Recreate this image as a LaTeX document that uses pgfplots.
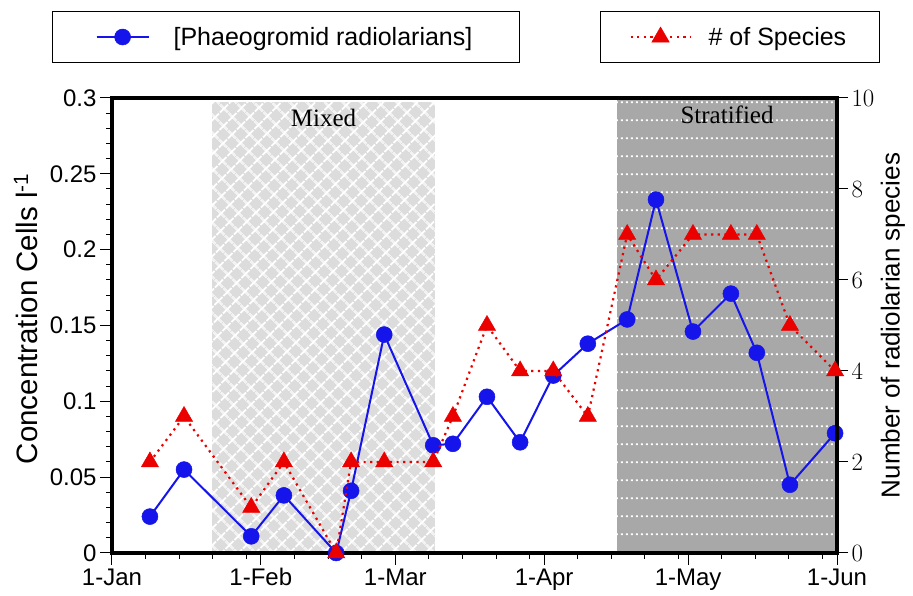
\documentclass[border=0pt]{standalone}
\usepackage{fontspec}
\setmainfont{Liberation Sans}
\newfontfamily\seriffam{Liberation Serif}
\usepackage{pgfplots}
\usepackage{pgfplotstable}
\pgfplotsset{compat=1.18}
\usetikzlibrary{patterns.meta}

\definecolor{myblue}{RGB}{20,20,235}
\definecolor{myred}{RGB}{235,0,0}
\definecolor{mixgray}{RGB}{220,220,220}
\definecolor{strgray}{RGB}{168,168,168}

\tikzdeclarepattern{
  name=diamondgrid,
  type=uncolored,
  bottom left={(0pt,0pt)},
  top right={(12pt,12pt)},
  tile size={(12pt,12pt)},
  tile transformation={rotate=45},
  code={
    \pgfsetlinewidth{2.2pt}
    \pgfpathmoveto{\pgfpoint{0pt}{6pt}}\pgfpathlineto{\pgfpoint{12pt}{6pt}}
    \pgfpathmoveto{\pgfpoint{6pt}{0pt}}\pgfpathlineto{\pgfpoint{6pt}{12pt}}
    \pgfusepath{stroke}
  }
}
\tikzdeclarepattern{
  name=hdotlines,
  type=uncolored,
  bottom left={(0pt,0pt)},
  top right={(5pt,17.5pt)},
  tile size={(5pt,17.5pt)},
  code={
    \pgfpathrectangle{\pgfpoint{1pt}{8pt}}{\pgfpoint{2.5pt}{1.8pt}}
    \pgfusepath{fill}
  }
}

\pgfplotstableread{
day conc species
7.9 0.024 2
15.0 0.055 3
29.0 0.011 1
35.8 0.038 2
46.7 0.000 0
49.8 0.041 2
56.7 0.144 2
66.9 0.071 2
71.0 0.072 3
78.1 0.103 5
85.0 0.073 4
91.9 0.117 4
99.1 0.138 3
107.3 0.154 7
113.3 0.233 6
121.0 0.146 7
128.9 0.171 7
134.3 0.132 7
141.2 0.045 5
150.6 0.079 4
}\datatable

\pgfplotsset{
  common/.style={
    scale only axis, width=725pt, height=455pt,
    xmin=0, xmax=151,
    tick align=outside,
    major tick length=12pt, minor tick length=6pt,
    every tick/.style={black, line width=1pt},
    axis line style={line width=3.5pt},
    tick label style={font=\fontsize{24}{28}\selectfont},
    clip=false,
  }
}

\begin{document}
\begin{tikzpicture}
\begin{axis}[
  common,
  ymin=0, ymax=0.3,
  xtick={0,31,59,90,120,151},
  xticklabels={1-Jan,1-Feb,1-Mar,1-Apr,1-May,1-Jun},
  minor xtick={7,14,21,28,38,45,52,66,73,80,87,97,104,111,118,127,134,141,148},
  ytick={0,0.05,0.1,0.15,0.2,0.25,0.3},
  yticklabels={0,0.05,0.1,0.15,0.2,0.25,0.3},
  minor y tick num=4,
  xtick pos=bottom, ytick pos=left,
  ylabel={Concentration Cells l\textsuperscript{-1}},
  ylabel style={font=\fontsize{29.5}{33}\selectfont, at={(axis description cs:-0.119,0.515)}, anchor=center},
  legend style={at={(axis description cs:0.24,1.134)}, anchor=center, draw=black, line width=1.2pt,
    inner xsep=43pt, inner ysep=12pt, column sep=20pt, font=\fontsize{25}{30}\selectfont,
    nodes={inner sep=4pt}},
  legend image code/.code={\draw[mark repeat=2,mark phase=2,#1] plot coordinates {(0pt,0pt) (26pt,0pt) (52pt,0pt)};},
]
\coordinate (SW) at (rel axis cs:0,0);
\coordinate (NE) at (rel axis cs:1,1);
\addplot[draw=none, fill=mixgray, postaction={pattern=diamondgrid, pattern color=white}, forget plot]
  coordinates {(20.8,0.001) (67.3,0.001) (67.3,0.2975) (20.8,0.2975)} -- cycle;
\addplot[draw=none, fill=strgray, postaction={pattern=hdotlines, pattern color=white}, forget plot]
  coordinates {(105.2,0.001) (151,0.001) (151,0.2985) (105.2,0.2985)} -- cycle;
\node[font=\seriffam\fontsize{25}{30}\selectfont, anchor=base] at (axis cs:44.05,0.281) {Mixed};
\node[font=\seriffam\fontsize{25}{30}\selectfont, anchor=base] at (axis cs:128.1,0.2835) {Stratified};
\draw[line width=3.5pt, black] (rel axis cs:0,0) rectangle (rel axis cs:1,1);
\addplot[color=myblue, line width=2pt, mark=*, mark size=8pt, mark options={solid, fill=myblue, line width=0.5pt}]
  table[x=day, y=conc] {\datatable};
\addlegendentry{[Phaeogromid radiolarians]}
\end{axis}
\begin{axis}[
  common,
  ymin=0, ymax=10,
  axis x line=none, axis y line*=right,
  ytick={0,2,4,6,8,10},
  major tick length=11pt,
  ylabel={Number of radiolarian species},
  ylabel style={font=\fontsize{26}{30}\selectfont, at={(axis description cs:1.077,0.5)}, anchor=center, rotate=0},
  legend style={at={(axis description cs:0.866,1.134)}, anchor=center, draw=black, line width=1.2pt,
    inner xsep=29pt, inner ysep=12pt, column sep=13pt, font=\fontsize{25}{30}\selectfont,
    nodes={inner sep=4pt}},
  legend image code/.code={\draw[mark repeat=2,mark phase=2,#1] plot coordinates {(0pt,0pt) (30pt,0pt) (60pt,0pt)};},
]
\addplot[color=myred, line width=2.2pt, dash pattern=on 2.2pt off 4.4pt, mark=triangle*, mark size=10pt, mark options={solid, fill=myred, line width=0.5pt}]
  table[x=day, y=species] {\datatable};
\addlegendentry{\# of Species}
\end{axis}
\pgfresetboundingbox
\path ([xshift=-112pt,yshift=-43pt]SW) rectangle ([xshift=76pt,yshift=98pt]NE);
\end{tikzpicture}
\end{document}
